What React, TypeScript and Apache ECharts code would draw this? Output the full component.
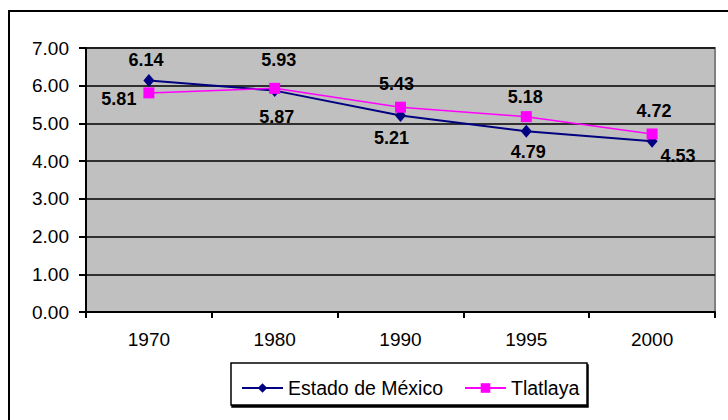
import React, { useEffect, useRef } from "react";
import * as echarts from "echarts";

const categories = ["1970", "1980", "1990", "1995", "2000"];
const estadoValues = [6.14, 5.87, 5.21, 4.79, 4.53];
const tlatlayaValues = [5.81, 5.93, 5.43, 5.18, 4.72];
const seriesNames = ["Estado de México", "Tlatlaya"];

const FONT = 'Arial, "Liberation Sans", sans-serif';

// label placement styles (not data)
const estadoLabelStyle = [
  { position: "top", offset: [-3, 0] },
  { position: "bottom", offset: [2, 6] },
  { position: "bottom", offset: [-9, 2] },
  { position: "bottom", offset: [2, 0] },
  { position: "right", offset: [-2, 15] },
];
const tlatlayaLabelStyle = [
  { position: "left", offset: [-2, 6] },
  { position: "top", offset: [4, -9] },
  { position: "top", offset: [-4, -4] },
  { position: "top", offset: [-1, 0] },
  { position: "top", offset: [2, -3] },
];

export default function App() {
  const ref = useRef<HTMLDivElement>(null);
  useEffect(() => {
    if (!ref.current) return;
    const chart = echarts.init(ref.current, undefined, { renderer: "svg" });
    const labelBase = {
      show: true,
      fontFamily: FONT,
      fontWeight: "bold",
      fontSize: 18,
      color: "#000",
      distance: 5,
      formatter: (p: any) => Number(p.value).toFixed(2),
    };
    const legendText = { fontFamily: FONT, fontSize: 19.5, color: "#000" };
    chart.setOption({
      animation: false,
      backgroundColor: "#fff",
      textStyle: { fontFamily: FONT },
      graphic: [
        {
          type: "rect",
          shape: { x: 9, y: 11, width: 740, height: 440 },
          style: { fill: "none", stroke: "#000", lineWidth: 2 },
          z: 100,
        },
        {
          type: "rect",
          shape: { x: 231, y: 363, width: 356, height: 42 },
          style: { fill: "#fff", stroke: "#000", lineWidth: 1.5, shadowColor: "#000", shadowOffsetX: 1, shadowOffsetY: 2, shadowBlur: 0 },
          z: 0,
        },
      ],
      grid: {
        left: 86,
        right: 13,
        top: 48,
        bottom: 108,
        show: true,
        backgroundColor: "#c0c0c0",
        borderColor: "#808080",
        borderWidth: 2,
      },
      legend: [
        {
          left: 236,
          top: 373,
          itemWidth: 41,
          itemHeight: 12,
          data: [seriesNames[0]],
          textStyle: legendText,
          z: 10,
        },
        {
          left: 459,
          top: 373,
          itemWidth: 41,
          itemHeight: 12,
          data: [seriesNames[1]],
          textStyle: legendText,
          z: 10,
        },
      ],
      xAxis: {
        type: "category",
        data: categories,
        boundaryGap: true,
        axisLine: { lineStyle: { color: "#000", width: 2 } },
        axisTick: { show: true, length: 6, lineStyle: { color: "#000", width: 2 } },
        axisLabel: { color: "#000", fontSize: 19, fontFamily: FONT, margin: 18 },
        splitLine: { show: false },
      },
      yAxis: {
        type: "value",
        min: 0,
        max: 7,
        interval: 1,
        axisLine: { show: true, lineStyle: { color: "#000", width: 2 } },
        axisTick: { show: true, length: 7, lineStyle: { color: "#000", width: 2 } },
        axisLabel: {
          color: "#000",
          fontSize: 19,
          fontFamily: FONT,
          margin: 17,
          formatter: (v: number) => v.toFixed(2),
        },
        splitLine: { show: true, lineStyle: { color: "#000", width: 1.5 } },
      },
      series: [
        {
          name: seriesNames[0],
          type: "line",
          data: estadoValues.map((v, i) => ({ value: v, label: estadoLabelStyle[i] })),
          symbol: "diamond",
          symbolSize: [11, 13],
          lineStyle: { color: "#000080", width: 2 },
          itemStyle: { color: "#000080" },
          label: labelBase,
          z: 3,
        },
        {
          name: seriesNames[1],
          type: "line",
          data: tlatlayaValues.map((v, i) => ({ value: v, label: tlatlayaLabelStyle[i] })),
          symbol: "rect",
          symbolSize: 11,
          lineStyle: { color: "#ff00ff", width: 1.5 },
          itemStyle: { color: "#ff00ff" },
          label: labelBase,
          z: 4,
        },
      ],
    });
    return () => chart.dispose();
  }, []);
  return (
    <div
      ref={ref}
      style={{ position: "absolute", left: 0, top: 0, width: 728, height: 420 }}
    />
  );
}
